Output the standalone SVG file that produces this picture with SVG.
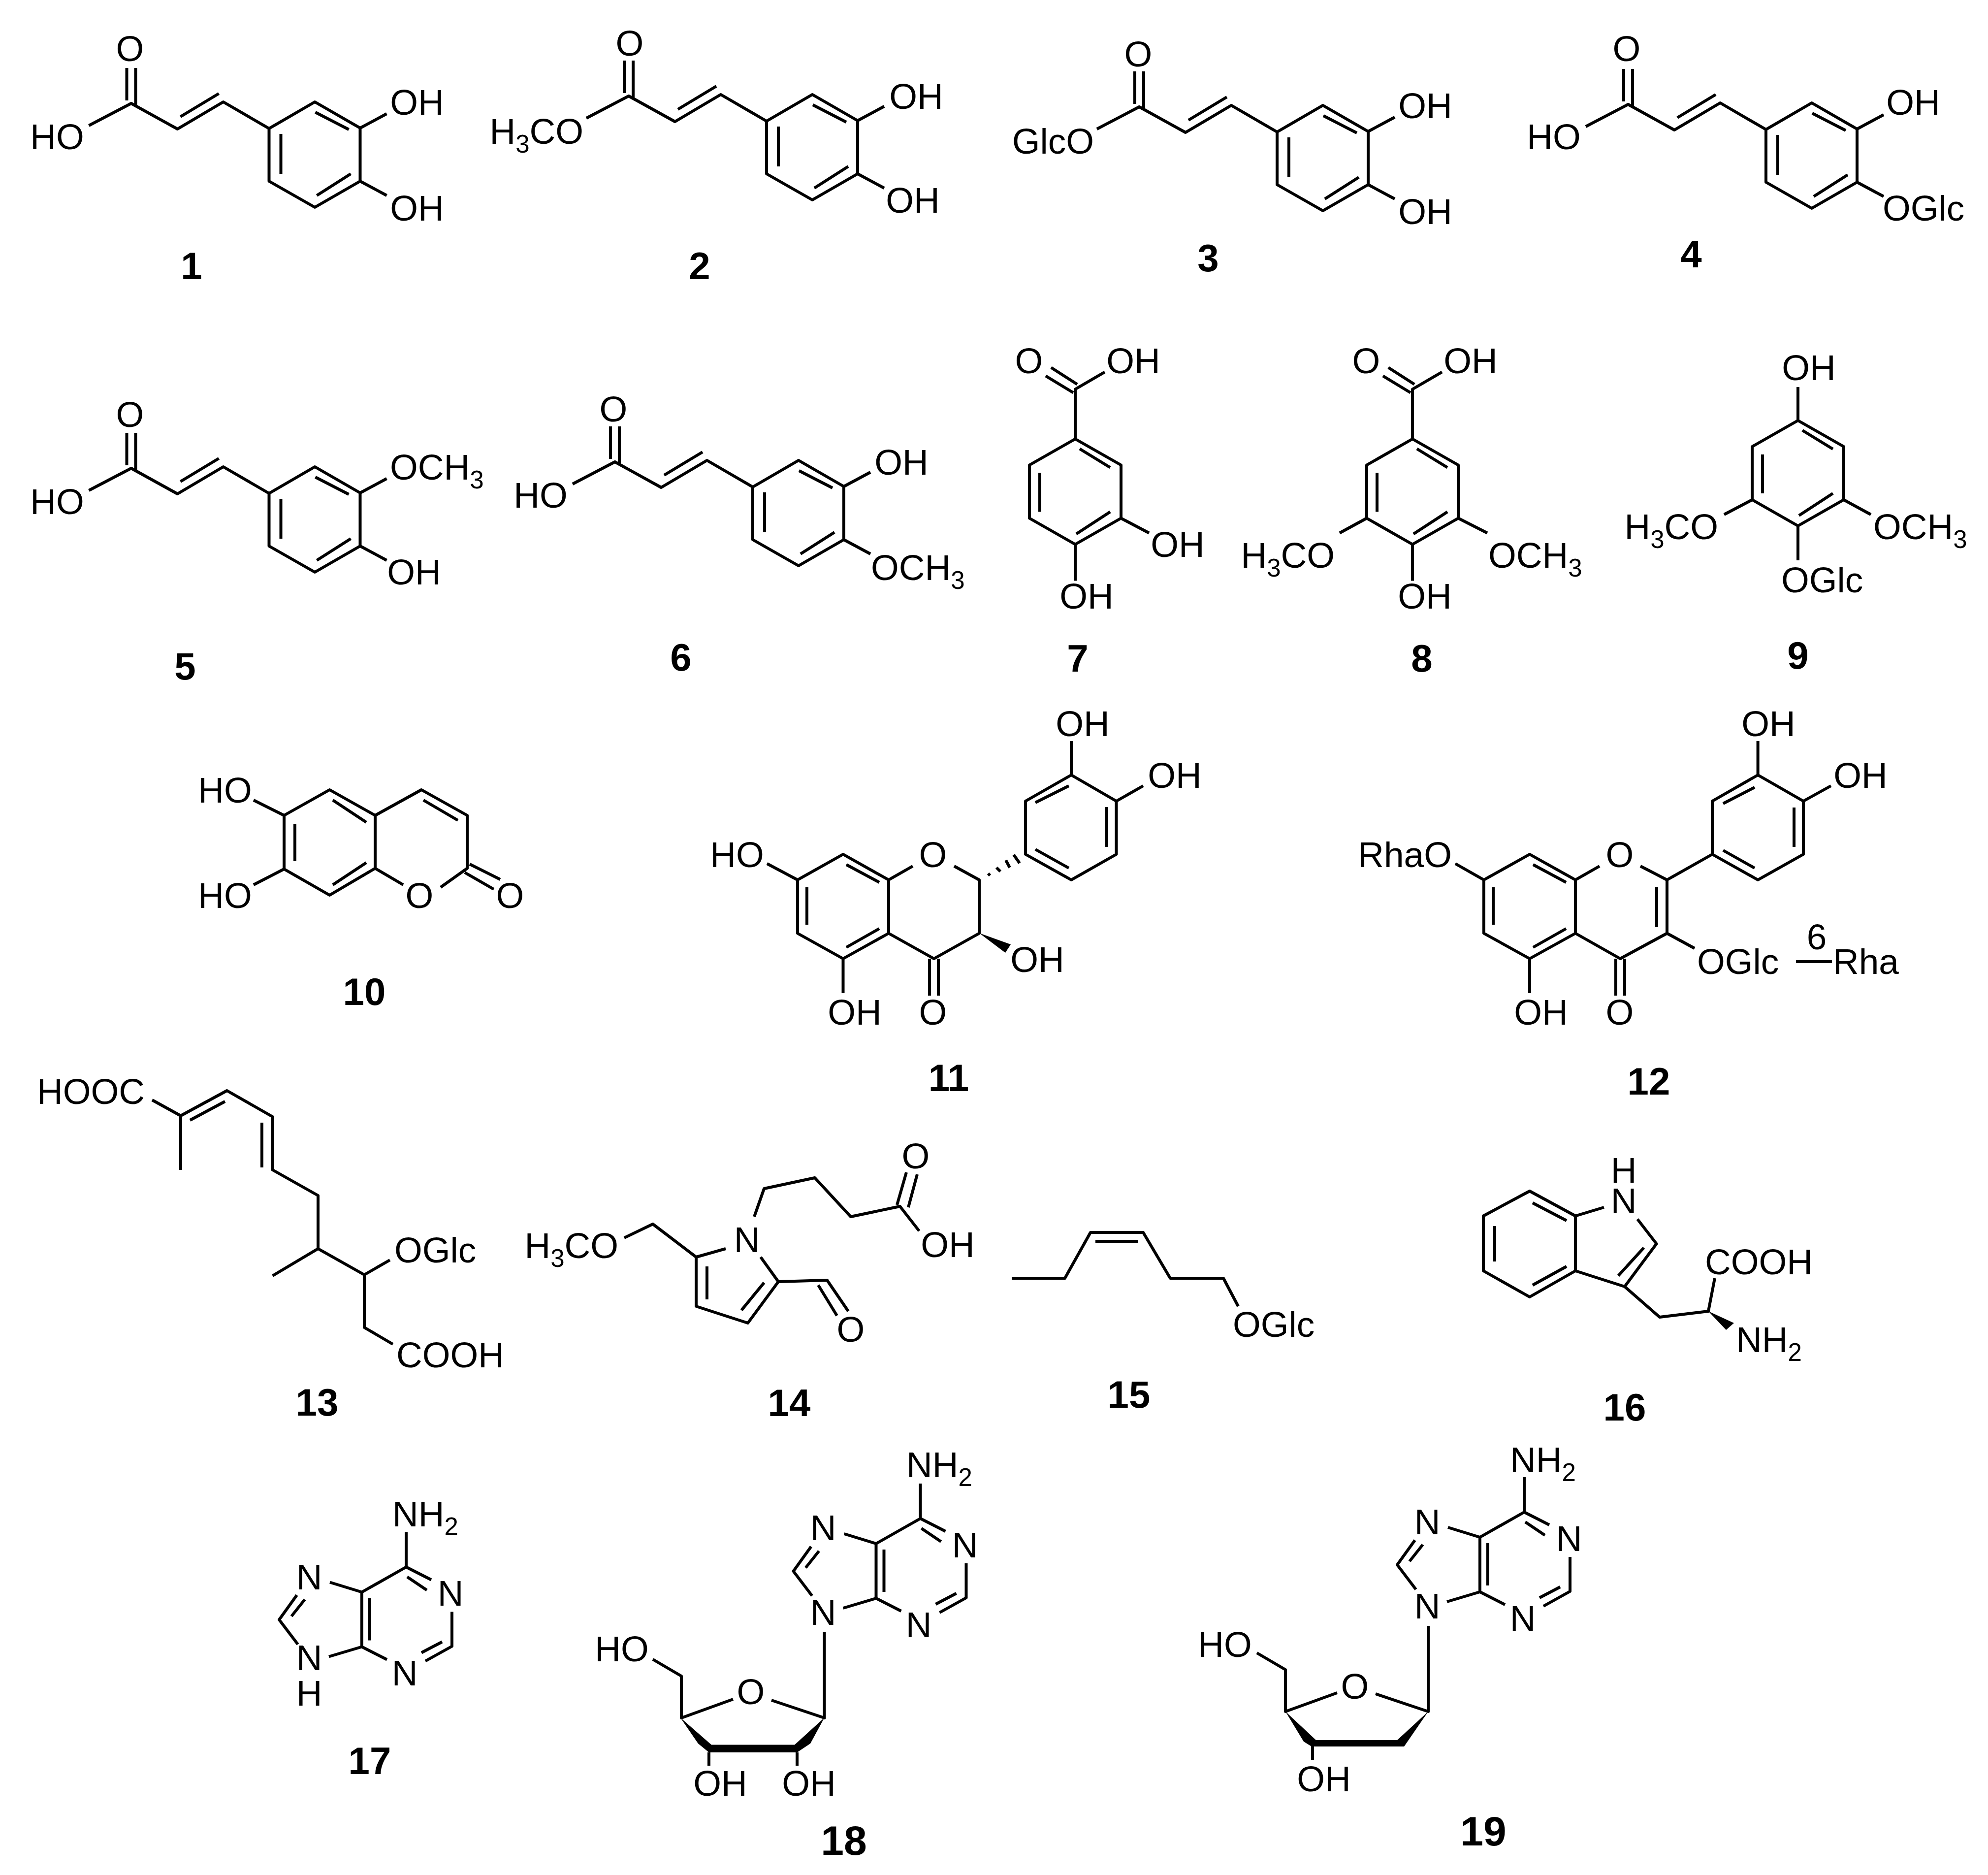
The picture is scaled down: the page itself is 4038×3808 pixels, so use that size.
<svg xmlns="http://www.w3.org/2000/svg" width="4038" height="3808" viewBox="0 0 4038 3808">
<style>
.b{fill:none;stroke:#000;stroke-width:6;stroke-linejoin:round}
.h{fill:none;stroke:#000;stroke-width:6}
.f{fill:#000;stroke:none}
text{font-family:"Liberation Sans",Arial,sans-serif;font-size:73px;fill:#000}
.m{text-anchor:middle}
.e{text-anchor:end}
.l{font-size:78px;font-weight:bold;text-anchor:middle}
.x{font-size:84px}
.s{font-size:51px}
</style>
<defs>
<path id="caf" class="b" d="M-9,-72V-6M9,-72V6M-86,45L0,0L94,52L187,-3L280,51L373,-3L465,50V158L373,211L280,158V51M100,27L178,-20M304,62V143M374,18L442,53M446,143L377,187M465,50L519,21M465,158L519,187"/>
<path id="bz" class="b" d="M0,-107L93,-54V54L0,107L-93,54V-54ZM9,-87L71,-49M-72,-38V41M71,41L2,86"/>
<path id="cooh" class="b" d="M0,-107V-208L60,-243M-49,-252L4,-218M-60,-235L-4,-201"/>
<path id="pur" class="b" d="M3096,3071V3000M3096,3071L3147,3097M3098,3091L3138,3118M3189,3162V3232L3135,3262M3169,3223L3127,3245M3057,3259L3006,3233V3122L3096,3071M3022,3134V3220M3006,3122L2941,3102M2874,3128L2838,3178L2876,3228M2890,3137L2863,3171M2939,3253L3006,3233"/>
</defs>
<rect width="4038" height="3808" fill="#fff"/>

<g id="c1">
<use href="#caf" transform="translate(266.5,210)"/>
<text class="m" x="264" y="124">O</text><text class="m" x="116" y="303">HO</text><text class="m" x="847" y="233">OH</text><text class="m" x="847" y="448">OH</text>
<text class="l" x="389" y="567">1</text>
</g>
<g id="c2">
<use href="#caf" transform="translate(1277,195)"/>
<text class="m" x="1279" y="113">O</text><text class="e" x="1185" y="292">H<tspan class="s" dy="18">3</tspan><tspan dy="-18">CO</tspan></text><text class="m" x="1861" y="221">OH</text><text class="m" x="1854" y="432">OH</text>
<text class="l" x="1421" y="567">2</text>
</g>
<g id="c3">
<use href="#caf" transform="translate(2314,217)"/>
<text class="m" x="2312" y="135">O</text><text class="e" x="2222" y="312">GlcO</text><text class="m" x="2895" y="240">OH</text><text class="m" x="2895" y="455">OH</text>
<text class="l" x="2454" y="551">3</text>
</g>
<g id="c4">
<use href="#caf" transform="translate(3307,212)"/>
<text class="m" x="3304" y="124">O</text><text class="m" x="3156" y="303">HO</text><text class="m" x="3886" y="233">OH</text><text x="3824" y="448">OGlc</text>
<text class="l" x="3435" y="543">4</text>
</g>
<g id="c5">
<use href="#caf" transform="translate(266.5,951)"/>
<text class="m" x="264" y="867">O</text><text class="m" x="116" y="1044">HO</text><text x="792" y="974">OCH<tspan class="s" dy="18">3</tspan></text><text class="m" x="841" y="1187">OH</text>
<text class="l" x="376" y="1380">5</text>
</g>
<g id="c6">
<use href="#caf" transform="translate(1249,938)"/>
<text class="m" x="1246" y="856">O</text><text class="m" x="1098" y="1031">HO</text><text class="m" x="1831" y="964">OH</text><text x="1769" y="1178">OCH<tspan class="s" dy="18">3</tspan></text>
<text class="l" x="1383" y="1362">6</text>
</g>
<g id="c7">
<g transform="translate(2184,998.5)"><use href="#bz"/><use href="#cooh"/><path class="b" d="M93,54L150,84M0,107V181"/></g>
<text class="m" x="2090" y="758">O</text><text class="m" x="2302" y="758">OH</text><text class="m" x="2392" y="1131">OH</text><text class="m" x="2207" y="1236">OH</text>
<text class="l" x="2189" y="1364">7</text>
</g>
<g id="c8">
<g transform="translate(2869,998.5)"><use href="#bz"/><use href="#cooh"/><path class="b" d="M93,54L152,84M-93,54L-148,84M0,107V181"/></g>
<text class="m" x="2775" y="758">O</text><text class="m" x="2987" y="758">OH</text><text class="e" x="2711" y="1153">H<tspan class="s" dy="18">3</tspan><tspan dy="-18">CO</tspan></text><text x="3023" y="1153">OCH<tspan class="s" dy="18">3</tspan></text><text class="m" x="2894" y="1236">OH</text>
<text class="l" x="2888" y="1364">8</text>
</g>
<g id="c9">
<g transform="translate(3652,961)"><use href="#bz"/><path class="b" d="M0,-107V-175M0,107V177M93,54L148,84M-93,54L-150,84"/></g>
<text class="m" x="3674" y="772">OH</text><text class="e" x="3490" y="1095">H<tspan class="s" dy="18">3</tspan><tspan dy="-18">CO</tspan></text><text x="3805" y="1095">OCH<tspan class="s" dy="18">3</tspan></text><text x="3618" y="1203">OGlc</text>
<text class="l" x="3652" y="1358">9</text>
</g>
<g id="c10">
<path class="b" d="M669.5,1604L762,1656V1763.5L669.5,1818L577,1765V1656ZM762,1656L856,1604L949,1656V1763.5L895,1802M819,1797L762,1763.5M676,1625L744,1670M599,1673V1749M676,1797L744,1752M860,1625L930,1666M577,1656L515,1625M577,1765L515,1797M944,1772L1003,1806M954,1755L1016,1786"/>
<text class="m" x="457" y="1630">HO</text><text class="m" x="457" y="1844">HO</text><text class="m" x="852" y="1844">O</text><text class="m" x="1036" y="1844">O</text>
<text class="l" x="740" y="2041">10</text>
</g>
<g id="c11">
<path class="b" d="M1712.5,1735L1805,1787V1895.5L1712.5,1947L1620,1895.5V1787ZM1805,1787L1854,1759M1938,1759L1989,1787V1895.5L1897,1947L1805,1895.5M1719,1756L1786,1792M1639,1802V1878M1719,1924L1786,1886M1620,1787L1558,1754M1712.5,1947V2017M1888,1947V2022M1906,1947V2022M2176,1574L2267.5,1627V1735L2176,1787L2083,1735V1627ZM2176,1574V1505M2267.5,1627L2322,1596M2171,1596L2103,1630M2248,1639V1720M2171,1763L2103,1725"/>
<path class="h" d="M2007,1774L2011,1778M2024,1762L2032,1770M2043,1747L2051,1762M2059,1736L2071,1753"/>
<polygon class="f" points="1989,1895 2053,1918 2042,1935"/>
<text class="m" x="1497" y="1761">HO</text><text class="m" x="1895" y="1761">O</text><text class="m" x="2199" y="1495">OH</text><text class="m" x="2386" y="1600">OH</text><text class="m" x="2107" y="1974">OH</text><text class="m" x="1736" y="2081">OH</text><text class="m" x="1895" y="2081">O</text>
<text class="l" x="1927" y="2216">11</text>
</g>
<g id="c12">
<path class="b" d="M3107,1735L3200,1787V1895.5L3107,1947L3014,1895.5V1787ZM3200,1787L3249,1759M3332,1759L3386,1787V1895.5L3291,1947L3200,1895.5M3114,1756L3181,1792M3033,1802V1878M3114,1924L3181,1886M3365,1802V1883M3014,1787L2956,1754M3107,1947V2017M3282,1947V2022M3300,1947V2022M3386,1787L3478,1735M3570.6,1574L3663,1627V1735L3570.6,1787L3478,1735V1627ZM3570.6,1574V1505M3663,1627L3719,1596M3564,1599L3500,1632M3644,1640V1720M3564,1763L3500,1727M3386,1895.5L3442,1926M3648,1953H3721"/>
<text class="e" x="2949" y="1761">RhaO</text><text class="m" x="3290" y="1761">O</text><text class="m" x="3592" y="1495">OH</text><text class="m" x="3779" y="1600">OH</text><text x="3447" y="1978">OGlc</text><text x="3723" y="1978">Rha</text><text class="m" x="3690" y="1928">6</text><text class="m" x="3130" y="2081">OH</text><text class="m" x="3290" y="2081">O</text>
<text class="l" x="3349" y="2223">12</text>
</g>
<g id="c13">
<path class="b" d="M309,2234L367,2266L461,2215L553.7,2268V2376L646,2428V2536L553.7,2591M367,2266V2376M386,2275L457,2237M532,2280V2371M646,2536L740,2589L792,2559M740,2589V2696L798,2730"/>
<text x="75" y="2242">HOOC</text><text x="801" y="2564">OGlc</text><text x="805" y="2777">COOH</text>
<text class="l" x="644" y="2875">13</text>
</g>
<g id="c14">
<path class="b" d="M1268,2514L1326,2486L1414,2553L1474,2536M1414,2553V2653L1519,2687L1581,2603L1545,2553M1436,2572V2639M1506,2661L1552,2605M1581,2603L1680,2600L1723,2663M1662,2610L1700,2672M1532,2471L1552,2414L1655,2392L1728,2471L1828,2450L1867,2500M1822,2447L1841,2381M1845,2452L1863,2385"/>
<text class="e" x="1256" y="2555">H<tspan class="s" dy="18">3</tspan><tspan dy="-18">CO</tspan></text><text class="m" x="1517" y="2543">N</text><text class="m" x="1728" y="2725">O</text><text class="m" x="1860" y="2373">O</text><text class="m" x="1925" y="2553">OH</text>
<text class="l" x="1603" y="2876">14</text>
</g>
<g id="c15">
<path class="b" d="M2055,2596H2163L2215,2503H2322L2377,2596H2485L2515,2653M2225,2521H2312"/>
<text x="2504" y="2715">OGlc</text>
<text class="l" x="2293" y="2859">15</text>
</g>
<g id="c16">
<path class="b" d="M3107,2419L3200,2469.5V2581L3107,2634L3013,2581V2469.5ZM3113,2443L3182,2479M3036,2490V2562M3113,2610L3182,2572M3200,2469.5L3258,2452M3326,2476L3364.6,2526L3300,2613L3200,2581M3339,2534L3287,2591M3300,2613L3371,2675L3470,2663L3483,2596"/>
<polygon class="f" points="3470,2663 3506,2701 3522,2687"/>
<text class="m" x="3298" y="2402">H</text><text class="m" x="3298" y="2464">N</text><text x="3463" y="2588">COOH</text><text x="3526" y="2746">NH<tspan class="s" dy="18">2</tspan></text>
<text class="l" x="3300" y="2885">16</text>
</g>
<g id="c17">
<g transform="translate(-2271,111.5)"><use href="#pur"/></g>
<text x="797" y="3100">NH<tspan class="s" dy="18">2</tspan></text><text class="m" x="915" y="3261">N</text><text class="m" x="822" y="3423">N</text><text class="m" x="628" y="3228">N</text><text class="m" x="628" y="3392">N</text><text class="m" x="628" y="3464">H</text>
<text class="l" x="751" y="3603">17</text>
</g>
<g id="c18">
<g transform="translate(-1226.5,13)"><use href="#pur"/></g>
<path class="b" d="M1674.5,3315V3489L1567,3453M1489,3451L1384,3489V3404L1326,3370M1440,3559V3586M1619,3559V3586"/>
<polygon class="f" points="1382,3488.5 1418,3541 1440,3559 1619,3559 1646,3541 1674.5,3488.5 1614,3543.5 1445,3543.5"/>
<text x="1841" y="3000">NH<tspan class="s" dy="18">2</tspan></text><text class="m" x="1960" y="3163">N</text><text class="m" x="1866" y="3325">N</text><text class="m" x="1672" y="3128">N</text><text class="m" x="1672" y="3300">N</text>
<text class="m" x="1263" y="3374">HO</text><text class="m" x="1525" y="3461">O</text><text class="m" x="1463" y="3647">OH</text><text class="m" x="1643" y="3647">OH</text>
<text class="l x" x="1714" y="3767">18</text>
</g>
<g id="c19">
<use href="#pur"/>
<path class="b" d="M2901,3302V3476L2794,3440M2716,3438L2611,3476V3391L2553,3357M2666,3546V3574"/>
<polygon class="f" points="2611,3476 2648,3537 2664,3547 2852,3547 2901,3476 2838,3534 2673,3534"/>
<text x="3067" y="2990">NH<tspan class="s" dy="18">2</tspan></text><text class="m" x="3187" y="3150">N</text><text class="m" x="3093" y="3312">N</text><text class="m" x="2899" y="3116">N</text><text class="m" x="2899" y="3287">N</text>
<text class="m" x="2488" y="3365">HO</text><text class="m" x="2752" y="3450">O</text><text class="m" x="2689" y="3638">OH</text>
<text class="l x" x="3013" y="3748">19</text>
</g>
</svg>
